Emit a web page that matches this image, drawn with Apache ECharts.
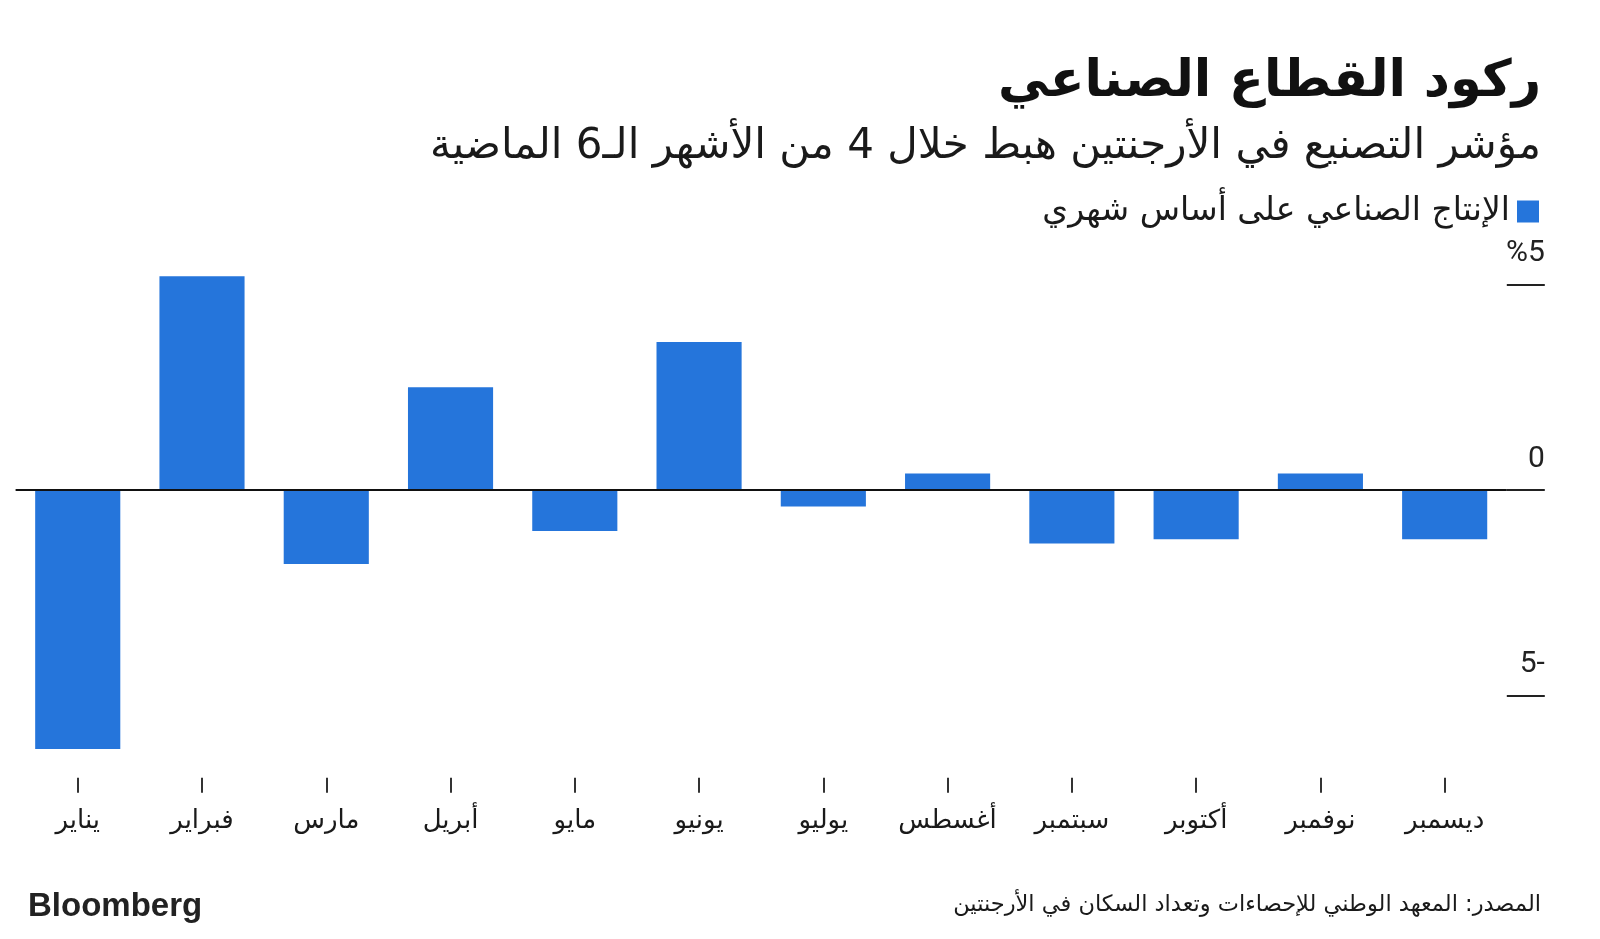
<!DOCTYPE html>
<html dir="rtl">
<head>
<meta charset="utf-8">
<script src="https://cdn.jsdelivr.net/npm/echarts@6/dist/echarts.min.js"></script>
<style>
html,body{margin:0;padding:0;background:#fff;}
#c{width:1600px;height:939px;direction:rtl;}
</style>
</head>
<body>
<div id="c"></div>
<script>
const months = ["يناير","فبراير","مارس","أبريل","مايو","يونيو","يوليو","أغسطس","سبتمبر","أكتوبر","نوفمبر","ديسمبر"];
const values = [-6.3, 5.2, -1.8, 2.5, -1.0, 3.6, -0.4, 0.4, -1.3, -1.2, 0.4, -1.2];
const yTickValues = [-5, 0, 5];
const yTickLabels = ["-5", "0", "%5"];
const seriesName = "الإنتاج الصناعي على أساس شهري";
const titleText = "ركود القطاع الصناعي";
const subtitleText = "مؤشر التصنيع في الأرجنتين هبط خلال 4 من الأشهر الـ6 الماضية";
const sourceText = "المصدر: المعهد الوطني للإحصاءات وتعداد السكان في الأرجنتين";
const brandText = "Bloomberg";

const AR = "'DejaVu Sans', sans-serif";
const chart = echarts.init(document.getElementById('c'), null, {renderer: 'canvas'});
chart.setOption({
  animation: false,
  backgroundColor: '#ffffff',
  title: [
    {text: titleText, right: 59, top: 55, padding: 0,
     textStyle: {fontFamily: AR, fontSize: 51, fontWeight: 'bold', color: '#111', lineHeight: 56}},
    {text: subtitleText, right: 59, top: 124, padding: 0,
     textStyle: {fontFamily: AR, fontSize: 42, fontWeight: 'normal', color: '#1a1a1a', lineHeight: 46}},
    {text: sourceText, right: 59, top: 892, padding: 0,
     textStyle: {fontFamily: AR, fontSize: 22.5, fontWeight: 'normal', color: '#1a1a1a', lineHeight: 26}},
    {text: brandText, left: 28, top: 889, padding: 0,
     textStyle: {fontFamily: "'Liberation Sans', Arial, sans-serif", fontSize: 33, fontWeight: 'bold', color: '#222', lineHeight: 35}}
  ],
  legend: {
    right: 61, top: 195, align: 'right', padding: 0, itemGap: 10,
    itemWidth: 22, itemHeight: 22, icon: 'rect',
    textStyle: {fontFamily: AR, fontSize: 33, color: '#1a1a1a', padding: [0, 2, 0, 0]},
    data: [seriesName]
  },
  grid: {left: 15.6, right: 93.2, top: 243.4, bottom: 161.3, containLabel: false},
  xAxis: {
    type: 'category',
    data: months,
    axisLine: {show: false, onZero: false},
    axisTick: {show: true, interval: 0, alignWithLabel: true, length: 15, lineStyle: {color: '#333', width: 2}},
    axisLabel: {interval: 0, fontFamily: AR, fontSize: 26, color: '#1a1a1a', margin: 31},
    splitLine: {show: false}
  },
  yAxis: {
    type: 'value',
    position: 'right',
    min: -7, max: 6,
    axisLine: {show: false},
    splitLine: {show: false},
    axisTick: {show: true, inside: false, length: 38, customValues: yTickValues, lineStyle: {color: '#222', width: 2}},
    axisLabel: {
      customValues: yTickValues,
      formatter: function (v) { const i = yTickValues.indexOf(v); return i >= 0 ? yTickLabels[i] : ''; },
      fontFamily: "Roboto, sans-serif", fontSize: 30, color: '#222',
      align: 'right', verticalAlign: 'bottom', margin: 38, padding: [0, 0, 16, 0]
    }
  },
  series: [{
    name: seriesName,
    type: 'bar',
    data: values,
    barCategoryGap: '31.5%',
    itemStyle: {color: '#2575db'},
    markLine: {
      silent: true, symbol: 'none', label: {show: false},
      lineStyle: {color: '#111', width: 2, type: 'solid'},
      data: [{yAxis: 0}]
    }
  }]
});
</script>
</body>
</html>
